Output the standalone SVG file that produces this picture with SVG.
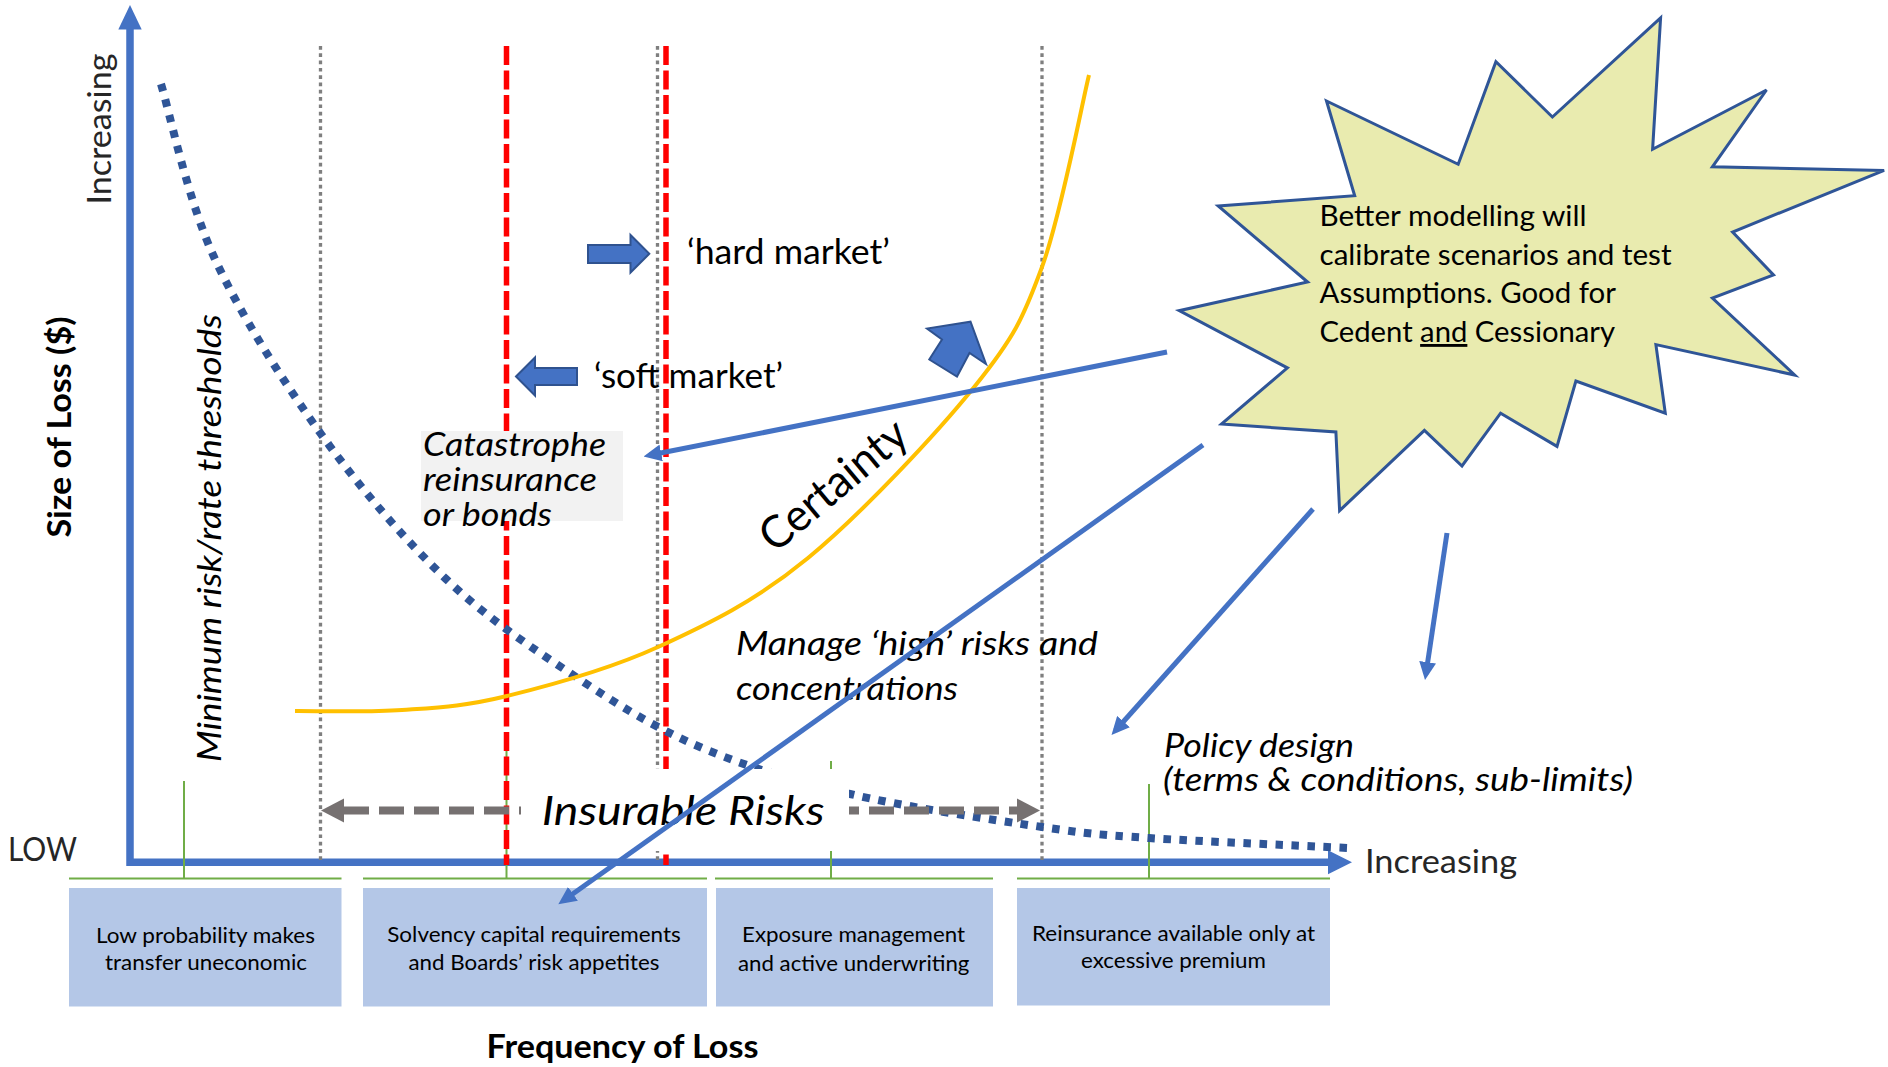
<svg xmlns="http://www.w3.org/2000/svg" width="1888" height="1067" viewBox="0 0 1888 1067">
<style>
.t{font-family:Lato,'Open Sans','Liberation Sans',sans-serif;fill:#000}
.i{font-style:italic}
.b{font-weight:bold}
.g2{fill:#262626}
.bx{font-size:22px;text-anchor:middle}
.conn{stroke:#4472C4;stroke-width:5;fill:none;marker-end:url(#ah)}
.gdot{stroke:#7F7F7F;stroke-width:3.3;stroke-dasharray:3.7 3.6;fill:none}
.red{stroke:#FF0000;stroke-width:5.5;stroke-dasharray:19 5.5;fill:none}
.grn{stroke:#70AD47;stroke-width:2;fill:none}
.box{fill:#B4C7E7}
.blk{fill:#4472C4;stroke:#2F528F;stroke-width:2;stroke-linejoin:miter}
</style>
<defs>
<marker id="ah" markerUnits="userSpaceOnUse" markerWidth="18" markerHeight="17" viewBox="0 0 18 17" refX="12" refY="8.5" orient="auto"><path d="M0,0 L18,8.5 L0,17 z" fill="#4472C4"/></marker>
</defs>
<rect width="1888" height="1067" fill="#fff"/>

<g id="axes">
<polyline points="130,28 130,862.3 1329,862.3" fill="none" stroke="#4472C4" stroke-width="7.5"/>
<polygon points="130,5 141.7,29.5 118.3,29.5" fill="#4472C4"/>
<polygon points="1352,862.3 1328,850.3 1328,874.3" fill="#4472C4"/>
</g>

<g id="bands">
<line class="grn" x1="69" y1="878.5" x2="341.5" y2="878.5"/>
<line class="grn" x1="363" y1="878.5" x2="707" y2="878.5"/>
<line class="grn" x1="715" y1="878.5" x2="993" y2="878.5"/>
<line class="grn" x1="1017" y1="878.5" x2="1330" y2="878.5"/>
<line class="grn" x1="184" y1="781" x2="184" y2="878.5"/>
<line class="grn" x1="506.5" y1="750" x2="506.5" y2="878.5"/>
<line class="grn" x1="831" y1="761" x2="831" y2="878.5"/>
<line class="grn" x1="1149" y1="784" x2="1149" y2="878.5"/>
</g>

<g id="thresholds">
<line class="gdot" x1="320.5" y1="46" x2="320.5" y2="862"/>
<line class="gdot" x1="657.5" y1="46" x2="657.5" y2="862"/>
<line class="gdot" x1="1042" y1="46" x2="1042" y2="862"/>
<line class="red" x1="506.5" y1="46" x2="506.5" y2="865"/>
<line class="red" x1="666" y1="46" x2="666" y2="865"/>
</g>

<g id="curves">
<path d="M161,84 C169.8,112.8 187.3,198.7 214,257 C240.7,315.3 282.3,380.3 321,434 C359.7,487.7 403.5,538.5 446,579 C488.5,619.5 533.7,649 576,677 C618.3,705 654.3,727.5 700,747 C745.7,766.5 793,780.7 850,794 C907,807.3 992.2,819.7 1042,827 C1091.8,834.3 1097.8,834.5 1149,838 C1200.2,841.5 1315.7,846.3 1349,848" fill="none" stroke="#2F5597" stroke-width="8" stroke-dasharray="7.5 8.5"/>
<path d="M295,711 C312.8,710.8 366.7,712.5 402,710 C437.3,707.5 464.3,706.5 507,696 C549.7,685.5 607.8,670 658,647 C708.2,624 755.2,601.5 808,558 C860.8,514.5 936,434.5 975,386 C1014,337.5 1023,318.8 1042,267 C1061,215.2 1081.2,107 1089,75" fill="none" stroke="#FFC000" stroke-width="4"/>
</g>

<g id="insurable-range">
<line x1="344" y1="810.5" x2="1017" y2="810.5" stroke="#767171" stroke-width="8" stroke-dasharray="25 10"/>
<polygon points="321,810.5 344,798.5 344,822.5" fill="#767171"/>
<polygon points="1040,810.5 1017,798.5 1017,822.5" fill="#767171"/>
</g>

<g id="insurable-label">
<rect x="521" y="769" width="328" height="82" fill="#fff"/>
<text class="t i" x="541.7" y="825" font-size="40" textLength="283" lengthAdjust="spacingAndGlyphs">Insurable Risks</text>
</g>

<g id="catastrophe">
<rect x="421" y="431" width="202" height="90" fill="#F2F2F2"/>
<text class="t i" font-size="33" fill="#1a1a1a">
<tspan x="423" y="456" textLength="183" lengthAdjust="spacingAndGlyphs">Catastrophe</tspan>
<tspan x="423" y="491" textLength="174" lengthAdjust="spacingAndGlyphs">reinsurance</tspan>
<tspan x="423" y="526" textLength="129" lengthAdjust="spacingAndGlyphs">or bonds</tspan>
</text>
</g>

<g id="market-arrows">
<polygon class="blk" points="588,245 630.5,245 630.5,235 649.3,253.8 630.5,272.5 630.5,263 588,263"/>
<polygon class="blk" points="516,376.5 535,357.5 535,368 577,368 577,385 535,385 535,395.5"/>
<polygon class="blk" points="970.5,321.7 986,364 969.5,353 957,376.5 929.3,359.5 942,339.5 927,328.5"/>
<text class="t" x="687" y="264" font-size="34" textLength="203" lengthAdjust="spacingAndGlyphs">‘hard market’</text>
<text class="t" x="594" y="388" font-size="34" textLength="189" lengthAdjust="spacingAndGlyphs">‘soft market’</text>
</g>

<g id="labels">
<text class="t b" transform="translate(71,427) rotate(-90)" text-anchor="middle" font-size="33" textLength="221" lengthAdjust="spacingAndGlyphs">Size of Loss ($)</text>
<text class="t g2" transform="translate(111,129) rotate(-90)" text-anchor="middle" font-size="33" textLength="151" lengthAdjust="spacingAndGlyphs">Increasing</text>
<text class="t g2" x="8" y="861" font-size="33" textLength="69" lengthAdjust="spacingAndGlyphs">LOW</text>
<text class="t g2" x="1365" y="873" font-size="33" textLength="152" lengthAdjust="spacingAndGlyphs">Increasing</text>
<text class="t i" transform="translate(221,538) rotate(-90)" text-anchor="middle" font-size="33" textLength="448" lengthAdjust="spacingAndGlyphs">Minimum risk/rate thresholds</text>
<text class="t" transform="translate(775,554) rotate(-40)" font-size="45" textLength="178" lengthAdjust="spacingAndGlyphs">Certainty</text>
<text class="t i" font-size="33">
<tspan x="736" y="655" textLength="362" lengthAdjust="spacingAndGlyphs">Manage ‘high’ risks and</tspan>
<tspan x="736" y="699.5" textLength="222" lengthAdjust="spacingAndGlyphs">concentrations</tspan>
</text>
<text class="t i" font-size="33" fill="#1a1a1a">
<tspan x="1164" y="757" textLength="190" lengthAdjust="spacingAndGlyphs">Policy design</tspan>
<tspan x="1163" y="791" textLength="470" lengthAdjust="spacingAndGlyphs">(terms &amp; conditions, sub-limits)</tspan>
</text>
<text class="t b" x="486.5" y="1058" font-size="32" textLength="272" lengthAdjust="spacingAndGlyphs">Frequency of Loss</text>
</g>

<g id="box-low">
<rect class="box" x="69" y="888" width="272.5" height="118.5"/>
<text class="t bx" x="205.5" y="942.7" textLength="219" lengthAdjust="spacingAndGlyphs">Low probability makes</text>
<text class="t bx" x="206" y="970" textLength="202" lengthAdjust="spacingAndGlyphs">transfer uneconomic</text>
</g>
<g id="box-solvency">
<rect class="box" x="363" y="888" width="344" height="118.5"/>
<text class="t bx" x="534" y="942" textLength="293.5" lengthAdjust="spacingAndGlyphs">Solvency capital requirements</text>
<text class="t bx" x="534" y="970" textLength="251" lengthAdjust="spacingAndGlyphs">and Boards’ risk appetites</text>
</g>
<g id="box-exposure">
<rect class="box" x="716" y="888" width="277" height="118.5"/>
<text class="t bx" x="853.5" y="942" textLength="223" lengthAdjust="spacingAndGlyphs">Exposure management</text>
<text class="t bx" x="853.7" y="970.5" textLength="231.5" lengthAdjust="spacingAndGlyphs">and active underwriting</text>
</g>
<g id="box-reinsurance">
<rect class="box" x="1017" y="888" width="313" height="117.5"/>
<text class="t bx" x="1173.5" y="940.5" textLength="283" lengthAdjust="spacingAndGlyphs">Reinsurance available only at</text>
<text class="t bx" x="1173.5" y="968.2" textLength="185" lengthAdjust="spacingAndGlyphs">excessive premium</text>
</g>

<g id="starburst">
<polygon points="1660.6,17.9 1652.6,149.3 1766.5,90 1712.4,166.8 1884.1,170.4 1732.6,232 1773.5,275 1712.4,298 1794.7,375 1655.9,344.6 1665.3,413.2 1575.9,381 1557,446.4 1500.6,413.2 1462,466 1424.4,430.4 1339.6,510.7 1335.9,432 1221.5,424 1287.4,367.9 1179.2,310.7 1307.6,282 1218.2,206 1354.7,195.7 1326.5,101 1458.2,164.3 1495.9,61.8 1552.4,117" fill="#E9EBAF" stroke="#2F5597" stroke-width="3" stroke-linejoin="miter"/>
<text class="t" font-size="28.5">
<tspan x="1319.5" y="225.7" textLength="267" lengthAdjust="spacingAndGlyphs">Better modelling will</tspan>
<tspan x="1319.5" y="264.5" textLength="352" lengthAdjust="spacingAndGlyphs">calibrate scenarios and test</tspan>
<tspan x="1319.5" y="303.3" textLength="296.5" lengthAdjust="spacingAndGlyphs">Assumptions. Good for</tspan>
</text>
<text class="t" font-size="28.5" x="1319.5" y="342" textLength="295.6" lengthAdjust="spacingAndGlyphs">Cedent <tspan text-decoration="underline">and</tspan> Cessionary</text>
</g>

<g id="connectors">
<path class="conn" d="M1167,352 L649.4,455.3"/>
<path class="conn" d="M1203,445 L563.2,900.8"/>
<path class="conn" d="M1313,509 L1115.5,730.5"/>
<path class="conn" d="M1447,533 L1425.9,674.1"/>
</g>
</svg>
